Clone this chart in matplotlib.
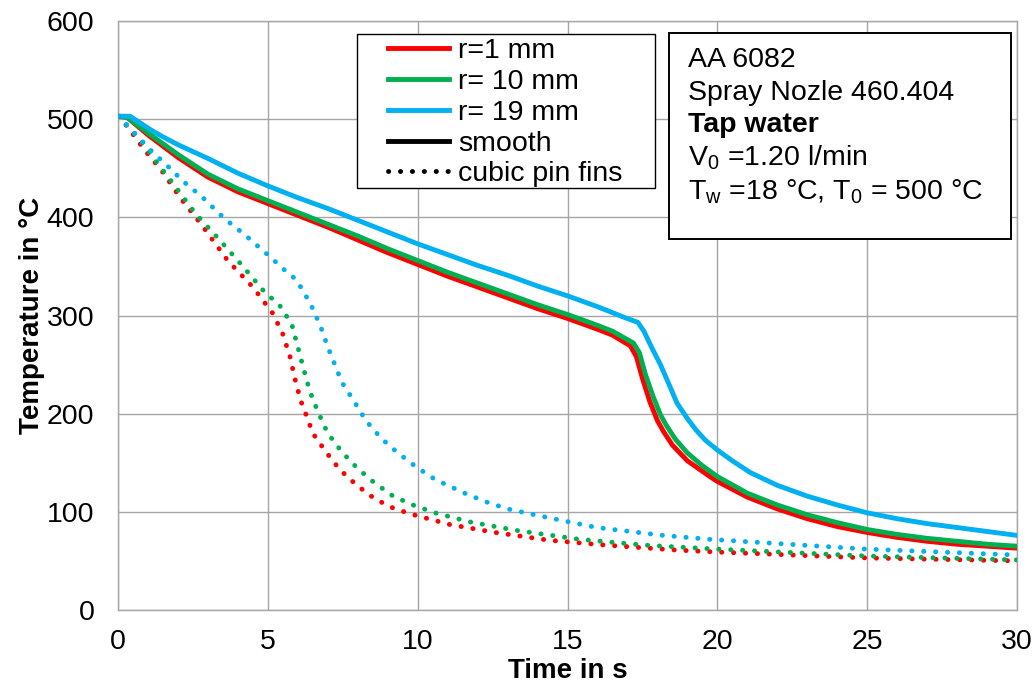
import matplotlib
matplotlib.use("Agg")
import matplotlib.pyplot as plt
from matplotlib.patches import Rectangle
from matplotlib.lines import Line2D

plt.rcParams["font.family"] = ["Liberation Sans", "DejaVu Sans"]
plt.rcParams["mathtext.fontset"] = "custom"
plt.rcParams["mathtext.rm"] = "Liberation Sans"
plt.rcParams["mathtext.it"] = "Liberation Sans:italic"
plt.rcParams["mathtext.bf"] = "Liberation Sans:bold"

# ---- cooling curves, smooth surface ----
t_r1_smooth = [0, 0.3, 1, 2, 3, 4, 5, 6, 7, 8, 9, 10, 11, 12, 13, 14, 15, 16, 16.5,
               17.1, 17.3, 17.5, 17.75, 18.0, 18.2, 18.5, 19.0, 19.75, 20, 21, 22,
               23, 24, 25, 26, 27, 28, 29, 30]
T_r1_smooth = [503, 502, 484, 461, 441, 426, 414, 402, 390, 377, 364, 352, 340, 329,
               318, 307, 297, 286, 280, 269, 258, 236, 212, 193, 182, 168, 152, 136,
               131, 115, 103, 93, 85, 79, 74, 70, 67, 65, 63]

t_r10_smooth = [0, 0.3, 1, 2, 3, 4, 5, 6, 7, 8, 9, 10, 11, 12, 13, 14, 15, 16, 16.5,
                17.2, 17.4, 17.6, 17.85, 18.1, 18.3, 18.6, 19.0, 19.5, 20, 21, 22,
                23, 24, 25, 26, 27, 28, 29, 30]
T_r10_smooth = [503, 502, 486, 464, 444, 429, 417, 405, 393, 381, 368, 356, 344, 333,
                322, 311, 301, 290, 284, 272, 262, 240, 218, 199, 188, 174, 160, 147,
                136, 119, 107, 97, 89, 82, 77, 73, 70, 67, 65]

t_r19_smooth = [0, 0.4, 1.1, 1.5, 2, 3, 4, 5, 6, 7, 8, 9, 10, 11, 12, 13, 14, 15, 16,
                16.9, 17.35, 17.55, 17.8, 18.1, 18.4, 18.65, 19.0, 19.3, 19.6, 20,
                20.5, 21.1, 22, 23, 24, 25, 26, 27, 28, 29, 30]
T_r19_smooth = [503, 503, 489, 482, 474, 460, 445, 432, 420, 409, 397, 385, 373, 362,
                351, 341, 330, 320, 309, 298, 293, 284, 268, 250, 229, 211, 195, 183,
                173, 163, 152, 140, 127, 116, 107, 99, 93, 88, 84, 80, 76]

# ---- cooling curves, cubic pin fins ----
t_r1_fins = [0, 0.3, 0.9, 1.45, 2.1, 2.8, 3.66, 4.5, 5.17, 5.5, 5.74, 5.9, 6.1, 6.24,
             6.5, 6.94, 7.4, 7.97, 8.58, 9.24, 9.98, 11.08, 12.58, 14.4, 16.3, 18.65,
             20, 25, 30]
T_r1_fins = [503, 493, 468, 448, 419, 392, 356, 329, 302, 281, 258, 236, 213, 202,
             180, 161, 143, 127, 113, 103, 96, 87, 79, 71, 66, 61,
             59, 53, 50]

t_r10_fins = [0, 0.73, 1.2, 1.87, 2.58, 3.36, 4.14, 4.86, 5.4, 5.8, 6.0, 6.2, 6.4,
              6.67, 7.0, 7.47, 7.97, 8.54, 9.18, 9.84, 10.58, 11.7, 13.2, 15.4, 17.6,
              20, 25, 30]
T_r10_fins = [503, 479, 460, 433, 404, 378, 351, 325, 310, 291, 268, 245, 223,
              202, 180, 161, 145, 130, 116, 107, 99, 90, 81.5, 72, 66,
              62, 55, 51]

t_r19_fins = [0, 0.3, 1.1, 1.63, 2.2, 2.8, 3.54, 4.2, 5.03, 5.57, 5.93, 6.2, 6.5,
              6.77, 7.0, 7.17, 7.47, 7.87, 8.27, 8.78, 9.34, 9.94, 10.58, 11.64, 12.3,
              13.0, 13.75, 14.85, 15.98, 17.08, 18.19, 19.75, 25, 30]
T_r19_fins = [503, 494, 468, 453, 436, 421, 399, 383, 361, 346, 337, 324, 307,
              288, 268, 255, 232, 213, 193, 175, 160, 146, 133, 118, 110,
              103, 98, 91, 84, 80, 76, 72, 62, 56]

radius_labels = ["r=1 mm", "r= 10 mm", "r= 19 mm"]
surface_labels = ["smooth", "cubic pin fins"]
x_ticks = [0, 5, 10, 15, 20, 25, 30]
y_ticks = [0, 100, 200, 300, 400, 500, 600]
info_lines = ["AA 6082", "Spray Nozle 460.404", "Tap water",
              r"V$_{\mathrm{0}}$ =1.20 l/min",
              r"T$_{\mathrm{w}}$ =18 °C, T$_{\mathrm{0}}$ = 500 °C"]

colors = ["#FF0000", "#00B050", "#00B0F0"]
W, H = 1036, 686
fig = plt.figure(figsize=(W / 100, H / 100), dpi=100)
ax = fig.add_axes([118 / W, 1 - 610 / H, (1017 - 118) / W, (610 - 21) / H])

lw = 3.5
dotted = (0, (0.05, 2.4))
smooth_sets = [(t_r1_smooth, T_r1_smooth), (t_r10_smooth, T_r10_smooth),
               (t_r19_smooth, T_r19_smooth)]
fin_sets = [(t_r1_fins, T_r1_fins), (t_r10_fins, T_r10_fins),
            (t_r19_fins, T_r19_fins)]
for (t, T), c in zip(smooth_sets, colors):
    ax.plot(t, T, color=c, lw=lw, solid_capstyle="round",
            solid_joinstyle="round", zorder=3)
for (t, T), c in zip(fin_sets, colors):
    ax.plot(t, T, color=c, lw=lw, linestyle=dotted, dash_capstyle="round", zorder=3)

ax.set_xlim(0, 30)
ax.set_ylim(0, 600)
ax.set_xticks(x_ticks)
ax.set_yticks(y_ticks)
ax.tick_params(axis="both", length=0, labelsize=20.5)
ax.tick_params(axis="y", pad=17)
ax.tick_params(axis="x", pad=14)
ax.grid(True, color="#a6a6a6", lw=1.0)
ax.set_axisbelow(True)
for s in ax.spines.values():
    s.set_color("#a6a6a6")
    s.set_linewidth(1.0)

ax.set_xlabel("Time in s", fontsize=20, fontweight="bold", labelpad=2)
ax.set_ylabel("Temperature in °C", fontsize=20, fontweight="bold", labelpad=1)

# legend: colours for radius, line style for surface
handles = [Line2D([], [], color=c, lw=lw) for c in colors]
handles.append(Line2D([], [], color="black", lw=lw))
handles.append(Line2D([], [], color="black", lw=lw, linestyle=dotted,
                      dash_capstyle="round"))
labels = radius_labels + surface_labels
leg = fig.legend(handles, labels, loc="upper left",
                 bbox_to_anchor=(388 / W, 1 - 38 / H), bbox_transform=fig.transFigure,
                 frameon=False, fontsize=20.5, borderpad=0, labelspacing=0.17,
                 handlelength=2.15, handletextpad=0.3, borderaxespad=0)
fig.add_artist(Rectangle((357 / W, 1 - 188 / H), (655 - 357) / W, (188 - 34) / H,
                         transform=fig.transFigure, fill=True, facecolor="white",
                         edgecolor="black", lw=1.0, zorder=4))
leg.set_zorder(5)

# info box
fig.add_artist(Rectangle((669 / W, 1 - 239 / H), (1011 - 669) / W, (239 - 33) / H,
                         transform=fig.transFigure, facecolor="white",
                         edgecolor="black", lw=1.4, zorder=4))
baselines = [67, 100, 132, 166, 199]
for txt, yb in zip(info_lines, baselines):
    fig.text(688 / W, 1 - yb / H, txt, fontsize=20.5, va="baseline", ha="left",
             fontweight="bold" if txt == "Tap water" else "normal", zorder=6)

fig.savefig("out.png", dpi=100)
